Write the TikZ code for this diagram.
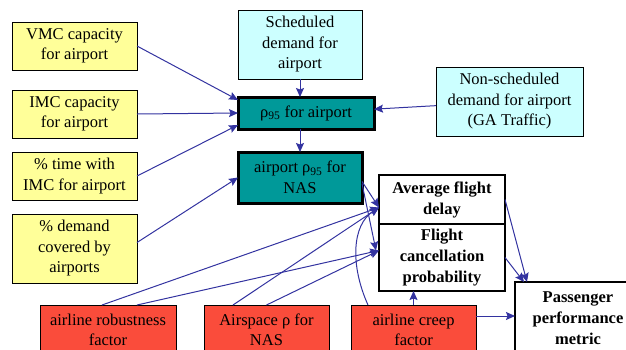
\documentclass[tikz,border=0pt]{standalone}
\usepackage{fontspec}
\setmainfont{Liberation Serif}
\usetikzlibrary{arrows.meta}
\definecolor{inputyellow}{RGB}{255,255,153}
\definecolor{demandcyan}{RGB}{204,255,255}
\definecolor{rhoteal}{RGB}{0,153,153}
\definecolor{factorred}{RGB}{250,76,59}
\definecolor{linkblue}{RGB}{51,51,160}
\begin{document}
\begin{tikzpicture}
  [x=1pt,y=-1pt,
   every node/.style={draw,line width=1pt,align=center,inner sep=0pt,outer sep=0pt,
     font=\fontsize{16.5}{20.5}\selectfont},
   yellowbox/.style={fill=inputyellow,minimum width=125,minimum height=48},
   cyanbox/.style={fill=demandcyan,minimum height=69},
   tealbox/.style={fill=rhoteal,line width=3pt},
   redbox/.style={fill=factorred,minimum height=50},
   resultbox/.style={fill=white,line width=2.5pt,minimum width=126,
     font=\fontsize{16.5}{21}\selectfont\bfseries},
   link/.style={draw=linkblue,line width=1pt,-{Stealth[length=9pt,width=8pt,inset=1.5pt]}}]
  \useasboundingbox (0,0) rectangle (626,349);
  \clip (0,0) rectangle (626,349);
  % inputs for the airport
  \node[yellowbox] (vmc) at (74.5,46)  {VMC capacity\\for airport};
  \node[yellowbox] (imc) at (74.5,114) {IMC capacity\\for airport};
  \node[yellowbox] (tim) at (74.5,176) {\% time with\\IMC for airport};
  \node[yellowbox,minimum height=69] (dem) at (74.5,248.5) {\% demand\\covered by\\airports};
  \node[cyanbox,minimum width=124] (sch) at (300,44.5) {Scheduled\\demand for\\airport};
  \node[cyanbox,minimum width=147] (non) at (509.5,101.5) {Non-scheduled\\demand for airport\\(GA Traffic)};
  \node[tealbox,minimum width=136,minimum height=32] (rho) at (306,113) {ρ\textsubscript{95} for airport};
  \node[tealbox,minimum width=124,minimum height=51] (nas) at (300,177.5) {airport ρ\textsubscript{95} for\\NAS};
  % outputs
  \node[resultbox,minimum height=49] (avg) at (442,199.5) {Average flight\\delay};
  \node[resultbox,minimum height=67] (can) at (442,257.5) {Flight\\cancellation\\probability};
  \node[resultbox,minimum height=72] (pas) at (578,318) {Passenger\\performance\\metric};
  % factors
  \node[redbox,minimum width=136] (rob) at (108,330)   {airline robustness\\factor};
  \node[redbox,minimum width=125] (air) at (266.5,330) {Airspace ρ for\\NAS};
  \node[redbox,minimum width=125] (crp) at (413.5,330) {airline creep\\factor};
  % links
  \foreach \from/\to in {imc.east/rho.west, non/rho}
    \draw[link] (\from) -- (\to);
  \draw[link] (vmc.east) -- ([yshift=13pt]rho.west);
  \draw[link] (tim.east) -- ([yshift=-12pt]rho.west);
  \draw[link] ([yshift=6pt]dem.east) -- (nas.west);
  \draw[link] (sch.south) -- (sch.south |- rho.north);
  \draw[link] (rho.south -| nas.north) -- (nas.north);
  \draw[link] ([yshift=-4pt]nas.east) -- ([yshift=-8pt]avg.west);
  \draw[link] ([yshift=-6pt]nas.east) -- ([xshift=-3pt,yshift=7pt]can.west);
  \draw[link] ([xshift=-6pt]rob.north) -- ([yshift=-8pt]avg.west);
  \draw[link] ([xshift=29pt]rob.north) -- ([yshift=7pt]can.west);
  \draw[link] ([xshift=-33.5pt]air.north) -- ([yshift=-8pt]avg.west);
  \draw[link] (air.north) -- ([yshift=7pt]can.west);
  \draw[link] ([xshift=-45.5pt]crp.north) .. controls (350,265) and (352,225) .. ([yshift=-8pt]avg.west);
  \draw[link] (crp.north) -- (crp.north |- can.south);
  \draw[link] ([yshift=14pt]crp.east) -- ([yshift=2pt]pas.west);
  \draw[link] (avg.east) -- ([xshift=-51pt]pas.north);
  \draw[link] (can.east) -- ([xshift=-54pt]pas.north);
\end{tikzpicture}
\end{document}
